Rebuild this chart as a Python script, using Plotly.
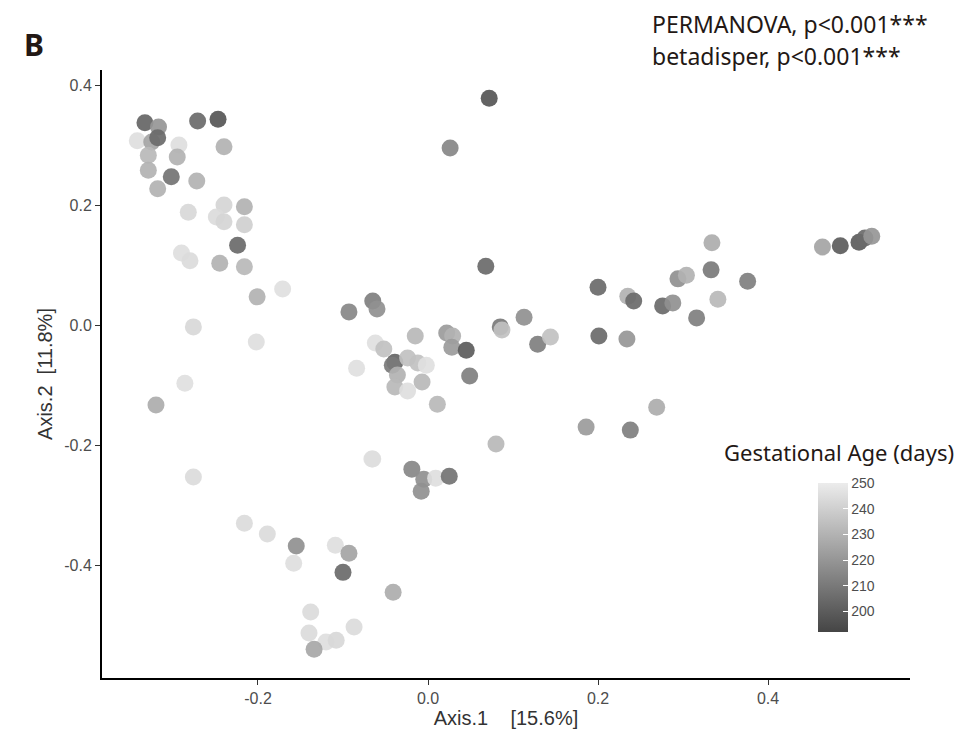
import plotly.graph_objects as go

# PCoA coordinates
axis1 = [
    -0.333, -0.317, -0.342, -0.325, -0.318, -0.293, -0.329, -0.295, -0.271, -0.247,
    -0.240, -0.329, -0.302, -0.272, -0.318, -0.282, -0.240, -0.249, -0.240, -0.216,
    -0.216, -0.224, -0.290, -0.280, -0.245, -0.216, -0.171, -0.201, -0.276, -0.202,
    -0.286, -0.320, -0.276, -0.065, -0.216, -0.189, -0.155, -0.158, -0.109, -0.093,
    -0.100, -0.041, -0.138, -0.140, -0.120, -0.108, -0.087, -0.134,
    -0.093, -0.065, -0.060, -0.015, -0.062, -0.052, -0.084, -0.039, -0.042, -0.024,
    -0.012, -0.002, -0.036, -0.039, -0.024, -0.007, 0.011, 0.022, 0.029, 0.028,
    0.045, 0.049, 0.085, 0.087, 0.113, 0.129, 0.144, 0.080, -0.066, -0.019,
    -0.005, 0.009, 0.025, -0.008, 0.072, 0.026, 0.068,
    0.334, 0.333, 0.376, 0.294, 0.304, 0.200, 0.235, 0.242, 0.276, 0.288,
    0.341, 0.316, 0.201, 0.234, 0.269, 0.186, 0.238, 0.464, 0.485, 0.507,
    0.514, 0.522,
]
axis2 = [
    0.337, 0.330, 0.307, 0.305, 0.312, 0.300, 0.283, 0.280, 0.340, 0.343,
    0.297, 0.258, 0.247, 0.240, 0.227, 0.188, 0.200, 0.180, 0.172, 0.197,
    0.167, 0.133, 0.120, 0.107, 0.103, 0.097, 0.060, 0.047, -0.003, -0.028,
    -0.097, -0.133, -0.253, -0.223, -0.330, -0.348, -0.368, -0.397, -0.367, -0.380,
    -0.412, -0.445, -0.478, -0.513, -0.528, -0.525, -0.503, -0.540,
    0.022, 0.040, 0.027, -0.018, -0.030, -0.040, -0.072, -0.062, -0.067, -0.055,
    -0.063, -0.067, -0.083, -0.103, -0.110, -0.095, -0.132, -0.013, -0.018, -0.037,
    -0.042, -0.085, -0.003, -0.008, 0.013, -0.032, -0.020, -0.198, -0.223, -0.240,
    -0.257, -0.255, -0.252, -0.277, 0.378, 0.295, 0.098,
    0.137, 0.092, 0.073, 0.077, 0.083, 0.063, 0.048, 0.040, 0.032, 0.037,
    0.043, 0.012, -0.018, -0.023, -0.137, -0.170, -0.175, 0.130, 0.132, 0.138,
    0.145, 0.148,
]
gest_age = [
    203, 220, 245, 225, 205, 245, 232, 230, 205, 198,
    230, 230, 208, 230, 230, 243, 242, 244, 242, 230,
    240, 205, 245, 244, 230, 232, 246, 230, 243, 245,
    246, 228, 244, 245, 244, 244, 218, 245, 245, 225,
    205, 228, 244, 244, 245, 243, 244, 226,
    215, 212, 218, 232, 246, 235, 246, 203, 210, 235,
    235, 246, 230, 232, 245, 232, 232, 222, 230, 222,
    200, 212, 210, 235, 218, 212, 235, 232, 245, 215,
    218, 245, 208, 218, 198, 215, 205,
    228, 210, 212, 218, 230, 205, 230, 205, 205, 218,
    232, 212, 205, 220, 228, 222, 212, 225, 200, 200,
    205, 220,
]

x_ticks = [-0.2, 0.0, 0.2, 0.4]
y_ticks = [-0.4, -0.2, 0.0, 0.2, 0.4]
cbar_ticks = [200, 210, 220, 230, 240, 250]

# target plot area in screenshot pixels: x 102..910, y 70..678 (page body adds 8px)
fig = go.Figure()
fig.add_trace(go.Scatter(
    x=axis1, y=axis2, mode="markers",
    marker=dict(
        size=17, color=gest_age, cmin=192, cmax=250,
        colorscale=[[0, "#454545"], [1, "#ececec"]],
        opacity=0.92, line=dict(width=0),
        colorbar=dict(
            thickness=30, thicknessmode="pixels",
            len=149, lenmode="pixels",
            x=(818 - 102) / 808, xanchor="left", xpad=0,
            y=(678 - 557.5) / 608, yanchor="middle", ypad=0,
            outlinewidth=0,
            tickvals=cbar_ticks, ticktext=[str(t) for t in cbar_ticks],
            ticks="inside", ticklen=5, tickcolor="white", tickwidth=1,
            tickfont=dict(family="Liberation Sans", size=14, color="#4d4d4d"),
        ),
    ),
    showlegend=False, hoverinfo="skip",
))

fig.update_layout(
    width=969, height=733,
    margin=dict(l=94, r=67, t=62, b=63),
    paper_bgcolor="white", plot_bgcolor="white",
    font=dict(family="Liberation Sans", color="#333333"),
    xaxis=dict(
        range=[-0.3835, 0.567], tickvals=x_ticks,
        ticktext=["-0.2", "0.0", "0.2", "0.4"],
        showgrid=False, zeroline=False,
        showline=True, linecolor="black", linewidth=2,
        ticks="outside", ticklen=5, tickcolor="#333333",
        tickfont=dict(size=16, color="#4d4d4d"),
        title=dict(text="Axis.1    [15.6%]", font=dict(size=20, color="#333333"), standoff=4),
    ),
    yaxis=dict(
        range=[-0.588, 0.425], tickvals=y_ticks,
        ticktext=["-0.4", "-0.2", "0.0", "0.2", "0.4"],
        showgrid=False, zeroline=False,
        showline=True, linecolor="black", linewidth=2,
        ticks="outside", ticklen=5, tickcolor="#333333",
        tickfont=dict(size=16, color="#4d4d4d"),
        title=dict(text="Axis.2  [11.8%]", font=dict(size=20, color="#333333"), standoff=6),
    ),
    annotations=[
        dict(text="<b>B</b>", xref="paper", yref="paper",
             x=(22 - 102) / 808, y=1 + (70 - 45) / 608,
             xanchor="left", yanchor="middle", showarrow=False,
             font=dict(family="Noto Sans", size=30, color="#231815")),
        dict(text="PERMANOVA, p<0.001***", xref="paper", yref="paper",
             x=(650 - 102) / 808, y=1 + (70 - 24) / 608,
             xanchor="left", yanchor="middle", showarrow=False,
             font=dict(family="Noto Sans", size=23, color="#231815")),
        dict(text="betadisper, p<0.001***", xref="paper", yref="paper",
             x=(650 - 102) / 808, y=1 + (70 - 56) / 608,
             xanchor="left", yanchor="middle", showarrow=False,
             font=dict(family="Noto Sans", size=23, color="#231815")),
        dict(text="Gestational Age (days)", xref="paper", yref="paper",
             x=(722 - 102) / 808, y=(678 - 452) / 608,
             xanchor="left", yanchor="middle", showarrow=False,
             font=dict(family="Noto Sans", size=22, color="#231815")),
    ],
)

fig.write_html("out.html")
